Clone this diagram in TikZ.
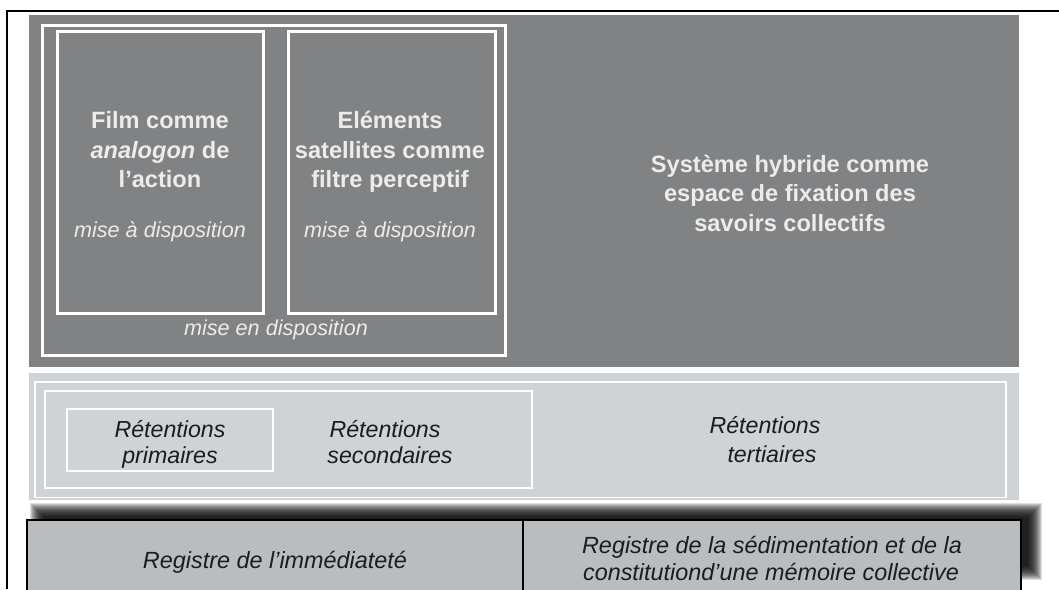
\documentclass[tikz,border=0pt]{standalone}
\usepackage{fontspec}
\setmainfont{Liberation Sans}
\definecolor{darkpanel}{RGB}{128,130,132}
\definecolor{lightpanel}{RGB}{208,211,214}
\definecolor{regfill}{RGB}{186,189,192}
\definecolor{softwhite}{RGB}{236,236,236}
\definecolor{inktext}{RGB}{28,28,28}
\begin{document}
\begin{tikzpicture}[x=1pt,y=-1pt,
  boldtxt/.style={font=\fontsize{23.6}{28}\selectfont\bfseries, text=softwhite, anchor=base, inner sep=0pt},
  dispotxt/.style={font=\fontsize{21.6}{26}\selectfont\itshape, text=softwhite, anchor=base, inner sep=0pt},
  rettxt/.style={font=\fontsize{23.2}{28}\selectfont\itshape, text=inktext, anchor=base, inner sep=0pt},
  regtxt/.style={font=\fontsize{23.4}{28}\selectfont\itshape, text=inktext, anchor=base, inner sep=0pt},
  whiteframe/.style={draw=white, line width=3pt},
  thinframe/.style={draw=white, line width=1.5pt},
  regbox/.style={draw=black, line width=2pt, fill=regfill}
]
\useasboundingbox (0,0) rectangle (1059,589);
% outer black frame (left and top)
\coordinate (fbl) at (6.5,589);
\coordinate (ftl) at (6.5,11);
\coordinate (ftr) at (1059,11);
\draw[line width=2pt] (fbl) -- (ftl) -- (ftr);

% dark panel
\fill[darkpanel] (29,15) rectangle (1019,367);
\path[whiteframe] (42.5,25) rectangle (505,355.5);
\path[whiteframe] (57,31) rectangle (263,313.5);
\path[whiteframe] (288,31) rectangle (495,313.5);

\node[boldtxt] (f1) at (160,128) {Film comme};
\node[boldtxt] (f2) at (160,158) {{\itshape analogon} de};
\node[boldtxt] (f3) at (160,187) {l’action};
\node[dispotxt] (f4) at (160,237) {mise à disposition};

\node[boldtxt] (e1) at (390,128) {Eléments};
\node[boldtxt] (e2) at (390,158) {satellites comme};
\node[boldtxt] (e3) at (390,187) {filtre perceptif};
\node[dispotxt] (e4) at (390,237) {mise à disposition};

\node[dispotxt] (med) at (276,335) {mise en disposition};

\node[boldtxt] (s1) at (790,172) {Système hybride comme};
\node[boldtxt] (s2) at (790,201.5) {espace de fixation des};
\node[boldtxt] (s3) at (790,231) {savoirs collectifs};

% soft shadow above the register boxes
\foreach \k in {0,...,14}{
  \fill[black, opacity=0.13] (30+\k,503+\k) rectangle (1042-\k,580-\k);
}

% light panel
\fill[lightpanel] (29,373) rectangle (1019,500);
\path[thinframe] (35,382) rectangle (1006,497.5);
\path[thinframe] (45,391) rectangle (532,488);
\path[draw=white, line width=1.2pt] (67,409) rectangle (273,471);

\node[rettxt] (r1a) at (170,437) {Rétentions};
\node[rettxt] (r1b) at (170,463) {primaires};
\node[rettxt] (r2a) at (385,437) {Rétentions};
\node[rettxt] (r2b) at (390,463) {secondaires};
\node[rettxt] (r3a) at (765,433) {Rétentions};
\node[rettxt] (r3b) at (772,462) {tertiaires};

% register boxes
\path[regbox] (27,520) rectangle (523,593);
\path[regbox] (523,520) rectangle (1021,593);
\node[regtxt] (g1) at (275,568) {Registre de l’immédiateté};
\node[regtxt] (g2a) at (772,553) {Registre de la sédimentation et de la};
\node[regtxt] (g2b) at (771,580) {constitutiond’une mémoire collective};
\end{tikzpicture}
\end{document}
